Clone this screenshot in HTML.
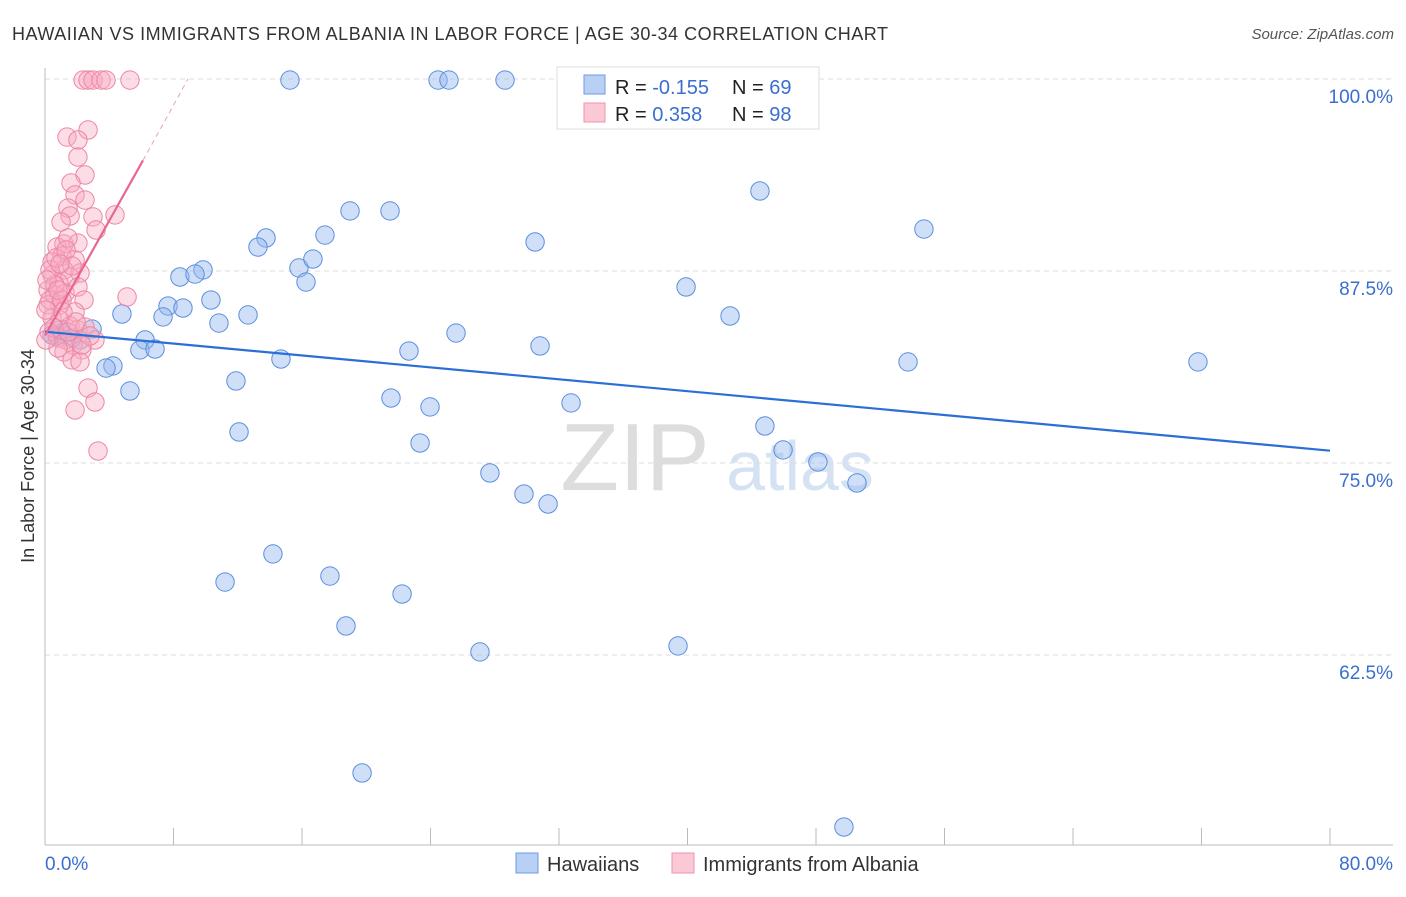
<!DOCTYPE html>
<html><head><meta charset="utf-8"><style>
body{margin:0;background:#fff;font-family:"Liberation Sans",sans-serif;}
svg text{font-family:"Liberation Sans",sans-serif;}
</style></head><body>
<svg id="c" width="1406" height="892">
<text x="12" y="40" font-size="18" fill="#333" textLength="876">HAWAIIAN VS IMMIGRANTS FROM ALBANIA IN LABOR FORCE | AGE 30-34 CORRELATION CHART</text>
<text x="1394" y="39" font-size="15" fill="#555" font-style="italic" text-anchor="end">Source: ZipAtlas.com</text>
<text x="635" y="490" font-size="96" fill="#ddd" font-family="Liberation Serif" text-anchor="middle">ZIP</text>
<text x="800" y="490" font-size="70" fill="#d4e2f4" text-anchor="middle">atlas</text>
<g id="grid"></g><g id="marks"></g><g id="lines"></g>
<text transform="translate(34,456) rotate(-90)" font-size="18" fill="#333" text-anchor="middle">In Labor Force | Age 30-34</text>
<text x="45" y="870" font-size="19" fill="#3a6fd0">0.0%</text>
<text x="1393" y="870" font-size="19" fill="#3a6fd0" text-anchor="end">80.0%</text>
<g>
<rect x="557" y="67" width="262" height="62" fill="#fff" stroke="#ddd"/>
<rect x="584" y="75" width="21" height="19" fill="#b8d0f4" stroke="#6c9be0"/>
<rect x="584" y="103" width="21" height="19" fill="#fbc8d6" stroke="#ef92ae"/>
<text x="615" y="94" font-size="20" fill="#222">R = <tspan fill="#3a6fd0">-0.155</tspan></text>
<text x="732" y="94" font-size="20" fill="#222">N = <tspan fill="#3a6fd0">69</tspan></text>
<text x="615" y="121" font-size="20" fill="#222">R = <tspan fill="#3a6fd0"> 0.358</tspan></text>
<text x="732" y="121" font-size="20" fill="#222">N = <tspan fill="#3a6fd0">98</tspan></text>
</g>
<g>
<rect x="516" y="853" width="22" height="20" fill="#b8d0f4" stroke="#6c9be0"/>
<text x="547" y="871" font-size="20" fill="#333">Hawaiians</text>
<rect x="672" y="853" width="22" height="20" fill="#fbc8d6" stroke="#ef92ae"/>
<text x="703" y="871" font-size="20" fill="#333">Immigrants from Albania</text>
</g>
</svg>
<script>
const yTicks=[100,87.5,75,62.5];
const yTickLabels=["100.0%","87.5%","75.0%","62.5%"];
const xTicks=[0,8,16,24,32,40,48,56,64,72,80];
const bluePx=[[290,80],[438,80],[449,80],[505,80],[580,80],[760,191],[924,229],[350,211],[390,211],[535,242],[325,235],[266,238],[258,247],[299,268],[313,259],[306,282],[203,270],[180,277],[195,274],[686,287],[168,306],[183,308],[211,300],[163,317],[122,314],[219,323],[248,315],[730,316],[456,333],[540,346],[145,340],[92,329],[63,333],[80,340],[140,350],[155,349],[281,359],[409,351],[908,362],[1198,362],[113,366],[106,368],[236,381],[130,391],[391,398],[430,407],[571,403],[239,432],[420,443],[765,426],[783,450],[818,462],[490,473],[857,483],[524,494],[548,504],[273,554],[225,582],[330,576],[402,594],[346,626],[480,652],[678,646],[362,773],[844,827],[72,338],[57,336],[60,330],[52,335]];
const pinkPx=[[83,80],[88,80],[93,80],[101,80],[106,80],[130,80],[88,130],[67,137],[78,140],[78,157],[85,175],[71,183],[75,195],[85,200],[68,208],[70,216],[61,222],[93,217],[115,215],[96,230],[64,244],[57,247],[78,243],[68,238],[62,256],[75,260],[52,262],[52,275],[64,270],[80,273],[70,277],[59,283],[48,290],[55,295],[65,293],[78,287],[84,300],[127,297],[48,305],[60,305],[75,312],[52,318],[60,320],[70,326],[78,330],[95,340],[49,332],[58,338],[66,340],[73,345],[82,350],[64,352],[72,360],[80,362],[88,388],[95,402],[75,410],[98,451],[55,285],[50,300],[62,300],[46,310],[54,328],[68,332],[85,327],[58,348],[50,270],[56,258],[66,250],[72,266],[47,280],[58,290],[63,312],[76,322],[90,336],[46,340],[60,264],[82,345]];
const X0=45,X1=1330,Y100=79,PXY=15.36;
const blueX=bluePx.map(p=>+((p[0]-X0)/(X1-X0)*80).toFixed(2));
const blueY=bluePx.map(p=>+(100-(p[1]-Y100)/PXY).toFixed(2));
const pinkX=pinkPx.map(p=>+((p[0]-X0)/(X1-X0)*80).toFixed(2));
const pinkY=pinkPx.map(p=>+(100-(p[1]-Y100)/PXY).toFixed(2));
const blueTrend=[[0,83.55],[80,75.8]];
const pinkTrend=[[0,83.3],[6.1,94.7],[8.9,100]];
const sx=v=>X0+v/80*(X1-X0), sy=v=>Y100+(100-v)*PXY;
const NS="http://www.w3.org/2000/svg";
function mk(t,a,par){const e=document.createElementNS(NS,t);for(const k in a)e.setAttribute(k,a[k]);document.getElementById(par).appendChild(e);return e;}
yTicks.forEach((v,i)=>{
 const l=mk('line',{x1:45,x2:1393,y1:sy(v),y2:sy(v),stroke:'#ddd','stroke-dasharray':'5,4'},'grid');
 
 
 const t=mk('text',{x:1393,y:sy(v)+24,'font-size':19,fill:'#3a6fd0','text-anchor':'end'},'grid');
 t.textContent=yTickLabels[i];
 
 
});
const ax=mk('line',{x1:45,x2:45,y1:68,y2:845,stroke:'#bbb'},'grid');


const bx=mk('line',{x1:45,x2:1393,y1:845,y2:845,stroke:'#bbb'},'grid');


xTicks.forEach(v=>{const t=mk('line',{x1:sx(v),x2:sx(v),y1:828,y2:845,stroke:'#bbb'},'grid');
 
 });
blueX.forEach((x,i)=>{const c=mk('circle',{cx:sx(x),cy:sy(blueY[i]),r:9.2,fill:'rgba(150,185,240,0.45)',stroke:'#5b8fdc','stroke-width':1},'marks');
 
 });
pinkX.forEach((x,i)=>{const c=mk('circle',{cx:sx(x),cy:sy(pinkY[i]),r:9.2,fill:'rgba(248,170,192,0.4)',stroke:'#ec86a6','stroke-width':1},'marks');
 
 });
const bl=mk('line',{x1:sx(blueTrend[0][0]),y1:sy(blueTrend[0][1]),x2:sx(blueTrend[1][0]),y2:sy(blueTrend[1][1]),stroke:'#2a6fd6','stroke-width':2.2},'lines');


const pl=mk('line',{x1:sx(pinkTrend[0][0]),y1:sy(pinkTrend[0][1]),x2:sx(pinkTrend[1][0]),y2:sy(pinkTrend[1][1]),stroke:'#e9668f','stroke-width':2.2},'lines');


const pd=mk('line',{x1:sx(pinkTrend[1][0]),y1:sy(pinkTrend[1][1]),x2:sx(pinkTrend[2][0]),y2:sy(pinkTrend[2][1]),stroke:'#efa0b8','stroke-width':1,'stroke-dasharray':'5,4'},'lines');


</script>
</body></html>
